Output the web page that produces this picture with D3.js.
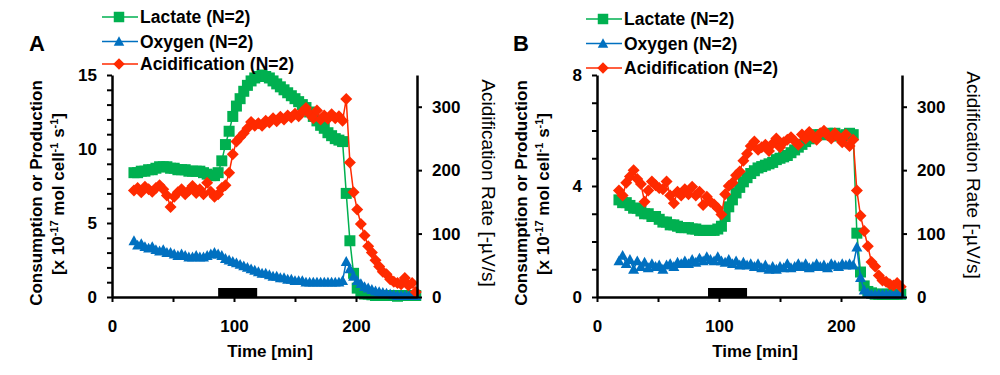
<!DOCTYPE html>
<html lang="en">
<head>
<meta charset="utf-8">
<title>Lactate, oxygen and acidification</title>
<script src="https://cdn.jsdelivr.net/npm/d3@7"></script>
<style>
  body { margin: 0; background: #fff; }
  svg { display: block; font-family: "Liberation Sans", Arial, sans-serif; }
</style>
</head>
<body>
<script>
// sample times [min], same grid for both panels
var times = [18,21,24,27,30,33,36,39,42,45, 48,51,54,57,60,63,66,69,72,75,
  78,81,84,87,90,93,96,99,102,105, 108,111,114,117,120,123,126,129,132,135,
  138,141,144,147,150,153,156,159,162,165, 168,171,174,177,180,183,186,189,192,195,
  198,201,204,207,210,213,216,219,222,225, 228,231,234,237,240,243,246,249];

// panel A
var lactateA = [8.4,8.4,8.5,8.5,8.6,8.6,8.7,8.8,8.8,8.8, 8.7,8.7,8.6,8.6,8.6,8.5,8.5,8.5,8.5,8.4,
  8.3,8.2,8.2,8.4,9.2,10.3,11.2,12.2,12.9,13.4, 13.9,14.3,14.6,14.8,14.9,15.0,14.9,14.8,14.6,14.4,
  14.2,14.0,13.8,13.6,13.4,13.2,13.0,12.8,12.5,12.2, 11.9,11.6,11.4,11.1,10.9,10.7,10.6,10.5,7.0,3.8,
  1.6,0.6,0.3,0.2,0.2,0.15,0.1,0.1,0.1,0.1, 0.1,0.1,0.05,0.1,0.1,0.1,0.1,0.1];
var oxygenA = [3.8,3.5,3.6,3.4,3.3,3.4,3.2,3.1,3.2,3.0, 3.0,2.9,2.8,2.9,2.8,2.7,2.7,2.8,2.7,2.7,
  2.8,2.9,3.0,2.9,2.8,2.6,2.5,2.4,2.3,2.2, 2.1,2.0,1.9,1.8,1.7,1.6,1.6,1.5,1.4,1.4,
  1.3,1.3,1.2,1.2,1.1,1.1,1.1,1.0,1.0,1.0, 1.0,1.0,1.0,1.0,1.0,1.0,1.0,1.1,2.4,1.9,
  1.4,1.1,0.9,0.7,0.6,0.5,0.4,0.35,0.3,0.25, 0.2,0.15,0.1,0.1,0.1,0.1,0.1,0.1];
var acidA = [168,172,165,174,170,166,172,176,170,160, 142,158,165,170,162,168,175,164,170,162,
  180,166,158,162,172,176,196,225,245,252, 258,266,276,270,274,270,278,275,282,277,
  284,280,286,283,289,285,292,298,288,282, 294,280,286,281,288,282,285,278,312,212,
  165,138,115,97,80,70,58,48,40,36, 28,24,22,20,30,18,22,8];

// panel B
var lactateB = [3.5,3.4,3.4,3.3,3.2,3.2,3.1,3.0,3.0,2.9, 2.9,2.8,2.7,2.7,2.6,2.6,2.55,2.5,2.5,2.5,
  2.45,2.45,2.4,2.4,2.4,2.4,2.4,2.45,2.55,2.9, 3.25,3.5,3.75,3.95,4.15,4.3,4.45,4.55,4.65,4.7,
  4.75,4.8,4.85,4.95,5.0,5.05,5.1,5.2,5.3,5.4, 5.5,5.6,5.7,5.8,5.85,5.85,5.85,5.9,5.85,5.9,
  5.8,5.8,5.85,5.9,5.85,2.3,0.9,0.4,0.2,0.15, 0.1,0.1,0.1,0.1,0.1,0.1,0.1,0.1];
var oxygenB = [1.3,1.5,1.2,1.35,1.0,1.3,1.1,1.25,1.05,1.2, 1.1,1.15,1.0,1.15,1.2,1.1,1.25,1.2,1.3,1.2,
  1.35,1.25,1.4,1.3,1.45,1.35,1.3,1.45,1.3,1.25, 1.35,1.2,1.3,1.15,1.25,1.15,1.2,1.1,1.2,1.05,
  1.15,1.0,1.1,1.0,1.1,1.05,1.2,1.05,1.1,1.2, 1.1,1.2,1.05,1.1,1.2,1.1,1.15,1.05,1.2,1.15,
  1.1,1.2,1.15,1.2,1.15,1.8,0.7,0.25,0.15,0.1, 0.1,0.1,0.1,0.1,0.1,0.1,0.1,0.1];
var acidB = [168,160,180,190,200,186,178,150,168,182, 176,172,170,182,160,148,166,160,170,162,
  174,160,166,145,158,150,146,140,130,162, 175,180,192,198,215,226,238,245,232,236,
  240,230,242,250,236,244,248,252,246,240, 256,250,260,252,248,258,262,255,250,258,
  252,244,256,238,248,168,128,104,80,55, 48,34,26,24,20,18,22,16];

// stimulus bars [start, end] in min
var stimA = [87, 119];
var stimB = [91, 123];

var seriesNames = ["Lactate (N=2)", "Oxygen (N=2)", "Acidification (N=2)"];
var colors = ["#00b050", "#0070c0", "#ff2a00"];

var timeTicks = [0, 50, 100, 150, 200];
var timeLabels = [0, 100, 200];
var leftTicksA = [0,1,2,3,4,5,6,7,8,9,10,11,12,13,14,15];
var leftLabelsA = [0, 5, 10, 15];
var leftTicksB = [0,1,2,3,4,5,6,7,8];
var leftLabelsB = [0, 4, 8];
var rightTicks = [0, 100, 200, 300];

var w = 1000, h = 375;
var svg = d3.select("body").append("svg").attr("width", w).attr("height", h);

// marker shapes: square, triangle, diamond
var shapes = [
  function (s) { var r = s / 2; return "M" + -r + "," + -r + "H" + r + "V" + r + "H" + -r + "Z"; },
  function (s) { var r = s / 2; return "M0," + -r + "L" + r + "," + (r * 0.8) + "L" + -r + "," + (r * 0.8) + "Z"; },
  function (s) { var r = s / 2 + 0.5; return "M0," + -r + "L" + r + ",0L0," + r + "L" + -r + ",0Z"; }
];

function styleAxis(g) {
  g.attr("font-family", null).attr("font-size", null);
  g.select(".domain").attr("stroke-width", 2.5);
  g.selectAll(".tick line").attr("stroke-width", 2);
  g.selectAll("text").attr("font-size", 17).attr("font-weight", "bold").attr("fill", "#000");
}

function drawPanel(p) {
  var x = d3.scaleLinear().domain([0, 250]).range([p.x0, p.x0 + 305]);
  var yL = d3.scaleLinear().domain([0, p.leftMax]).range([297, 75]);
  var yR = d3.scaleLinear().domain([0, 350]).range([297, 75]);
  var scales = [yL, yL, yR];
  var data = [p.lactate, p.oxygen, p.acid];

  // series
  data.forEach(function (vals, i) {
    var pts = times.map(function (t, j) { return [t, vals[j]]; });
    var line = d3.line().x(function (d) { return x(d[0]); }).y(function (d) { return scales[i](d[1]); });
    svg.append("path").datum(pts)
      .attr("d", line)
      .attr("fill", "none")
      .attr("stroke", colors[i])
      .attr("stroke-width", 1.5);
    svg.append("g").selectAll("path")
      .data(pts)
      .enter()
      .append("path")
      .attr("transform", function (d) { return "translate(" + x(d[0]) + "," + scales[i](d[1]) + ")"; })
      .attr("d", shapes[i](11))
      .attr("fill", colors[i]);
  });

  // stimulus bar
  svg.append("rect")
    .attr("x", x(p.stim[0]))
    .attr("width", x(p.stim[1]) - x(p.stim[0]))
    .attr("y", 288)
    .attr("height", 9)
    .attr("fill", "#000");

  // axes
  svg.append("g").attr("transform", "translate(" + p.x0 + ",0)")
    .call(d3.axisLeft(yL).tickValues(p.leftTicks).tickSize(5).tickSizeOuter(0).tickPadding(10)
      .tickFormat(function (d) { return p.leftLabels.indexOf(d) >= 0 ? d : ""; }))
    .call(styleAxis);
  svg.append("g").attr("transform", "translate(" + (p.x0 + 305) + ",0)")
    .call(d3.axisRight(yR).tickValues(rightTicks).tickSize(5).tickSizeOuter(0).tickPadding(10))
    .call(styleAxis);
  svg.append("g").attr("transform", "translate(0,297)")
    .call(d3.axisBottom(x).tickValues(timeTicks).tickSize(5).tickSizeOuter(0).tickPadding(18)
      .tickFormat(function (d) { return timeLabels.indexOf(d) >= 0 ? d : ""; }))
    .call(styleAxis);

  // axis titles
  svg.append("text")
    .attr("x", p.x0 + 158).attr("y", 357)
    .attr("text-anchor", "middle")
    .attr("font-size", 17).attr("font-weight", "bold")
    .text("Time [min]");

  svg.append("text")
    .attr("transform", "translate(" + (p.x0 - 76) + ",193) rotate(-90)")
    .attr("text-anchor", "middle").attr("dy", "0.35em")
    .attr("font-size", 17).attr("font-weight", "bold")
    .text("Consumption or Production");

  var t2 = svg.append("text")
    .attr("transform", "translate(" + (p.x0 - 54.5) + ",194) rotate(-90)")
    .attr("text-anchor", "middle")
    .attr("font-size", 17).attr("font-weight", "bold");
  var parts = [["[x 10", 0], ["-17", 1], [" mol cell", 0], ["-1", 1], [" s", 0], ["-1", 1], ["]", 0]];
  var prev = 0;
  parts.forEach(function (pt, k) {
    var shift = pt[1] ? -6 : 0;
    t2.append("tspan")
      .attr("dy", (k === 0 ? 6 : shift - prev))
      .attr("font-size", pt[1] ? 11 : 17)
      .text(pt[0]);
    prev = shift;
  });

  svg.append("text")
    .attr("transform", "translate(" + (p.x0 + 305 + 72) + "," + p.rightTitleY + ") rotate(90)")
    .attr("text-anchor", "middle").attr("dy", "0.35em")
    .attr("font-size", 19)
    .text("Acidification Rate [-\u00b5V/s]");

  // panel letter
  svg.append("text")
    .attr("x", p.letterX).attr("y", 51)
    .attr("text-anchor", "middle")
    .attr("font-size", 22).attr("font-weight", "bold")
    .text(p.letter);

  // legend
  seriesNames.forEach(function (name, i) {
    var ly = p.legendY[i];
    svg.append("line")
      .attr("x1", p.legendX).attr("x2", p.legendX + 36)
      .attr("y1", ly).attr("y2", ly)
      .attr("stroke", colors[i]).attr("stroke-width", 1.5);
    svg.append("path")
      .attr("transform", "translate(" + (p.legendX + 17) + "," + ly + ")")
      .attr("d", shapes[i](10.5))
      .attr("fill", colors[i]);
    svg.append("text")
      .attr("x", p.legendX + 38).attr("y", ly)
      .attr("dy", "0.35em")
      .attr("font-size", 17.5).attr("font-weight", "bold")
      .text(name);
  });
}

drawPanel({
  x0: 112, leftMax: 15, leftTicks: leftTicksA, leftLabels: leftLabelsA,
  lactate: lactateA, oxygen: oxygenA, acid: acidA, stim: stimA,
  letter: "A", letterX: 37, legendX: 102, legendY: [17, 41.5, 64], rightTitleY: 183
});
drawPanel({
  x0: 597, leftMax: 8, leftTicks: leftTicksB, leftLabels: leftLabelsB,
  lactate: lactateB, oxygen: oxygenB, acid: acidB, stim: stimB,
  letter: "B", letterX: 521, legendX: 586, legendY: [19, 43.5, 68], rightTitleY: 175
});
</script>
</body>
</html>
